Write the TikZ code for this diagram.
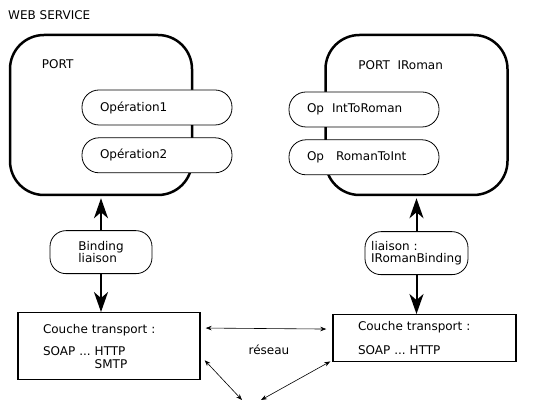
\documentclass[tikz,border=0pt]{standalone}
\usepackage{fontspec}
\setmainfont{DejaVu Sans}
\usetikzlibrary{arrows.meta,positioning,calc}
\frenchspacing

\begin{document}
\begin{tikzpicture}[x=1pt,y=-1pt,font=\fontsize{12}{12.5}\selectfont]
	\tikzstyle{txt} = [draw=none, inner sep=0pt, anchor=west]
	\tikzstyle{port} = [rectangle, draw, line width=2.5pt, rounded corners=34pt, minimum width=182pt, minimum height=160pt]
	\tikzstyle{op} = [rectangle, draw, fill=white, line width=0.8pt, rounded corners=17pt, text width=114pt, inner xsep=18pt, minimum height=35pt, align=left]
	\tikzstyle{bind} = [rectangle, draw, fill=white, line width=0.8pt, rounded corners=16pt, minimum height=43pt, align=left]
	\tikzstyle{transport} = [rectangle, draw, line width=1.4pt, text width=132pt, inner xsep=25pt, align=left]
	\tikzstyle{bigarrow} = [draw, line width=2pt, -{Stealth[length=20pt,width=14pt,inset=6pt]}]
	\tikzstyle{net} = [draw, line width=0.6pt, {Stealth[length=6pt,width=4.5pt]}-{Stealth[length=6pt,width=4.5pt]}]

	\useasboundingbox (0,0) rectangle (536,411);

	\node [txt] (wstitle) at (8,15) {WEB SERVICE};

	% ports and their operations
	\node [port] (lport) at (101,115) {};
	\node [port] (rport) at (416.5,115) {};
	\node [txt] (lportname) at ($(lport.north west)+(33,30)$) {PORT};
	\node [txt] (rportname) at ($(rport.north west)+(34,31)$) {PORT\ \ IRoman};

	\node [op] (op1) at (157,107.5) {Opération1};
	\node [op, below=12pt of op1] (op2) {Opération2};
	\node [op] (introman) at (364,109.5) {Op\ \ IntToRoman};
	\node [op, below=12pt of introman] (romanint) {Op\ \ \ RomanToInt};

	\node [bind, minimum width=102pt, below=34pt of lport] (lbind) {Binding\\liaison};
	\node [bind, minimum width=103pt, below=35pt of rport] (rbind) {liaison :\\IRomanBinding};

	\node [transport, minimum height=67pt, below=38pt of lbind, xshift=8pt] (ltrans) {Couche transport :\\[10pt]SOAP ... HTTP\\\phantom{SOAP ... }SMTP};
	\node [transport, text width=133pt, minimum height=47pt, below=39pt of rbind, xshift=8pt] (rtrans) {Couche transport :\\[11pt]SOAP ... HTTP};

	\node [txt, anchor=center] (reseau) at (269,350) {réseau};
	\coordinate (peerl) at (242,400);
	\coordinate (peerr) at (261,400);

	\path[bigarrow] (lbind) edge[shorten >=2pt] (lport);
	\path[bigarrow] (rbind) edge[shorten >=2pt] (rport);
	\path[bigarrow] (lbind.south) -- (lbind.south |- ltrans.north);
	\path[bigarrow] (rbind.south) -- (rbind.south |- rtrans.north);

	\path[net] ($(ltrans.north east)+(5,16)$) -- ($(rtrans.north west)+(-6,15)$);
	\path[net] ($(ltrans.east)+(4,14)$) -- (peerl);
	\path[net] (peerr) -- ($(rtrans.south west)+(-2,-1)$);
\end{tikzpicture}
\end{document}
